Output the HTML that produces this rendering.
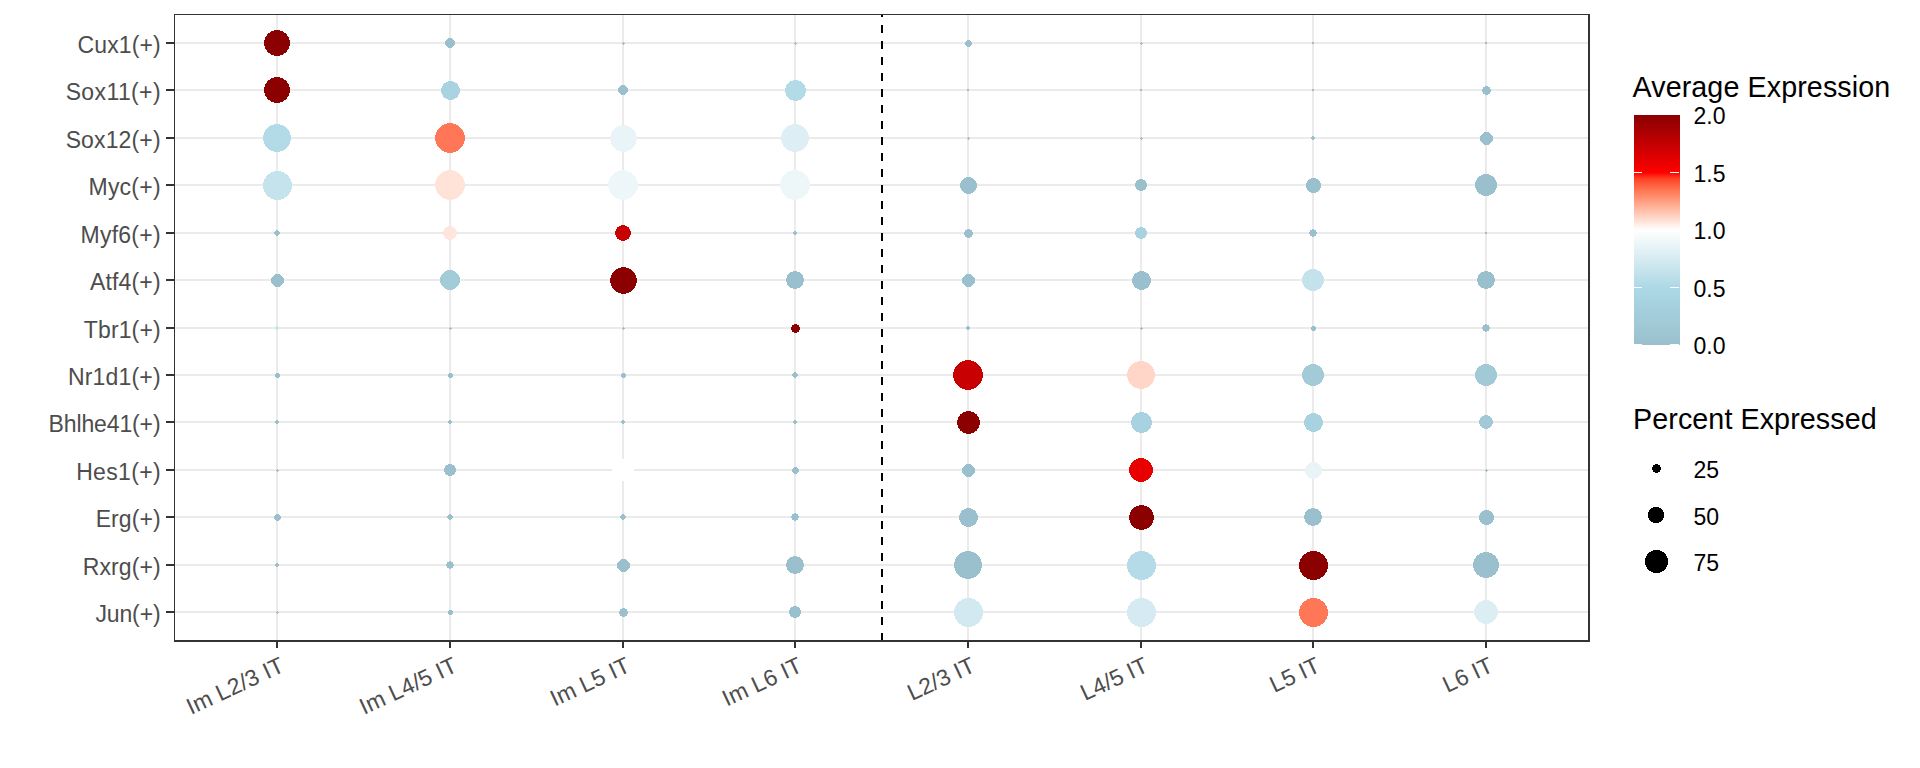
<!DOCTYPE html><html><head><meta charset="utf-8"><style>html,body{margin:0;padding:0;background:#fff;width:1920px;height:768px;overflow:hidden}svg{display:block}text{font-family:"Liberation Sans",sans-serif}</style></head><body>
<svg width="1920" height="768" viewBox="0 0 1920 768">
<rect width="1920" height="768" fill="#fff"/>
<g fill="#ebebeb">
<rect x="175" y="42.00" width="1413" height="2"/>
<rect x="175" y="89.00" width="1413" height="2"/>
<rect x="175" y="137.00" width="1413" height="2"/>
<rect x="175" y="184.00" width="1413" height="2"/>
<rect x="175" y="232.00" width="1413" height="2"/>
<rect x="175" y="279.00" width="1413" height="2"/>
<rect x="175" y="327.00" width="1413" height="2"/>
<rect x="175" y="374.00" width="1413" height="2"/>
<rect x="175" y="421.00" width="1413" height="2"/>
<rect x="175" y="469.00" width="1413" height="2"/>
<rect x="175" y="516.00" width="1413" height="2"/>
<rect x="175" y="564.00" width="1413" height="2"/>
<rect x="175" y="611.00" width="1413" height="2"/>
<rect x="276.00" y="15" width="2" height="625"/>
<rect x="449.00" y="15" width="2" height="625"/>
<rect x="622.00" y="15" width="2" height="625"/>
<rect x="794.00" y="15" width="2" height="625"/>
<rect x="967.00" y="15" width="2" height="625"/>
<rect x="1140.00" y="15" width="2" height="625"/>
<rect x="1312.00" y="15" width="2" height="625"/>
<rect x="1485.00" y="15" width="2" height="625"/>
</g>
<line x1="882" y1="15" x2="882" y2="640" stroke="#000" stroke-width="2" stroke-dasharray="8 8" stroke-dashoffset="6"/>
<path d="M274 30h6v1h-6zM271 31h12v1h-12zM270 32h14v1h-14zM268 33h18v1h-18zM267 34h20v1h-20zM267 35h20v1h-20zM266 36h22v1h-22zM265 37h24v1h-24zM265 38h24v1h-24zM265 39h24v1h-24zM264 40h26v1h-26zM264 41h26v1h-26zM264 42h26v1h-26zM264 43h26v1h-26zM264 44h26v1h-26zM264 45h26v1h-26zM265 46h24v1h-24zM265 47h24v1h-24zM265 48h24v1h-24zM266 49h22v1h-22zM267 50h20v1h-20zM267 51h20v1h-20zM268 52h18v1h-18zM270 53h14v1h-14zM271 54h12v1h-12zM274 55h6v1h-6z" fill="#8b0000"/>
<path d="M448 38h4v1h-4zM447 39h6v1h-6zM446 40h8v1h-8zM445 41h10v1h-10zM445 42h10v1h-10zM445 43h10v1h-10zM445 44h10v1h-10zM446 45h8v1h-8zM447 46h6v1h-6zM448 47h4v1h-4z" fill="#9ac0cd"/>
<path d="M623 42h1v1h-1zM622 43h3v1h-3zM623 44h1v1h-1z" fill="#9ac0cd"/>
<path d="M795 42h1v1h-1zM794 43h3v1h-3zM795 44h1v1h-1z" fill="#9ac0cd"/>
<path d="M967 40h3v1h-3zM966 41h5v1h-5zM965 42h7v1h-7zM965 43h7v1h-7zM965 44h7v1h-7zM966 45h5v1h-5zM967 46h3v1h-3z" fill="#9ac0cd"/>
<path d="M1141 42h1v1h-1zM1140 43h3v1h-3zM1141 44h1v1h-1z" fill="#9ac0cd"/>
<path d="M1312 42h2v1h-2zM1312 43h2v1h-2z" fill="#9ac0cd"/>
<path d="M1485 42h2v1h-2zM1485 43h2v1h-2z" fill="#9ac0cd"/>
<path d="M274 77h6v1h-6zM271 78h12v1h-12zM270 79h14v1h-14zM268 80h18v1h-18zM267 81h20v1h-20zM267 82h20v1h-20zM266 83h22v1h-22zM265 84h24v1h-24zM265 85h24v1h-24zM265 86h24v1h-24zM264 87h26v1h-26zM264 88h26v1h-26zM264 89h26v1h-26zM264 90h26v1h-26zM264 91h26v1h-26zM264 92h26v1h-26zM265 93h24v1h-24zM265 94h24v1h-24zM265 95h24v1h-24zM266 96h22v1h-22zM267 97h20v1h-20zM267 98h20v1h-20zM268 99h18v1h-18zM270 100h14v1h-14zM271 101h12v1h-12zM274 102h6v1h-6z" fill="#8b0000"/>
<path d="M448 81h5v1h-5zM446 82h9v1h-9zM444 83h13v1h-13zM443 84h15v1h-15zM443 85h15v1h-15zM442 86h17v1h-17zM442 87h17v1h-17zM441 88h19v1h-19zM441 89h19v1h-19zM441 90h19v1h-19zM441 91h19v1h-19zM441 92h19v1h-19zM442 93h17v1h-17zM442 94h17v1h-17zM443 95h15v1h-15zM443 96h15v1h-15zM444 97h13v1h-13zM446 98h9v1h-9zM448 99h5v1h-5z" fill="#a9d3e0"/>
<path d="M621 85h4v1h-4zM620 86h6v1h-6zM619 87h8v1h-8zM618 88h10v1h-10zM618 89h10v1h-10zM618 90h10v1h-10zM618 91h10v1h-10zM619 92h8v1h-8zM620 93h6v1h-6zM621 94h4v1h-4z" fill="#9ac0cd"/>
<path d="M793 80h5v1h-5zM790 81h11v1h-11zM789 82h13v1h-13zM788 83h15v1h-15zM787 84h17v1h-17zM786 85h19v1h-19zM786 86h19v1h-19zM786 87h19v1h-19zM785 88h21v1h-21zM785 89h21v1h-21zM785 90h21v1h-21zM785 91h21v1h-21zM785 92h21v1h-21zM786 93h19v1h-19zM786 94h19v1h-19zM786 95h19v1h-19zM787 96h17v1h-17zM788 97h15v1h-15zM789 98h13v1h-13zM790 99h11v1h-11zM793 100h5v1h-5z" fill="#b2dae7"/>
<path d="M967 89h2v1h-2zM967 90h2v1h-2z" fill="#9ac0cd"/>
<path d="M1140 89h2v1h-2zM1140 90h2v1h-2z" fill="#9ac0cd"/>
<path d="M1312 89h2v1h-2zM1312 90h2v1h-2z" fill="#9ac0cd"/>
<path d="M1485 86h3v1h-3zM1483 87h7v1h-7zM1483 88h7v1h-7zM1482 89h9v1h-9zM1482 90h9v1h-9zM1482 91h9v1h-9zM1483 92h7v1h-7zM1483 93h7v1h-7zM1485 94h3v1h-3z" fill="#9ac0cd"/>
<path d="M274 124h6v1h-6zM271 125h12v1h-12zM269 126h16v1h-16zM268 127h18v1h-18zM267 128h20v1h-20zM266 129h22v1h-22zM265 130h24v1h-24zM265 131h24v1h-24zM264 132h26v1h-26zM264 133h26v1h-26zM264 134h26v1h-26zM263 135h28v1h-28zM263 136h28v1h-28zM263 137h28v1h-28zM263 138h28v1h-28zM263 139h28v1h-28zM263 140h28v1h-28zM264 141h26v1h-26zM264 142h26v1h-26zM264 143h26v1h-26zM265 144h24v1h-24zM265 145h24v1h-24zM266 146h22v1h-22zM267 147h20v1h-20zM268 148h18v1h-18zM269 149h16v1h-16zM271 150h12v1h-12zM274 151h6v1h-6z" fill="#b2dae7"/>
<path d="M447 123h6v1h-6zM444 124h12v1h-12zM442 125h16v1h-16zM441 126h18v1h-18zM440 127h20v1h-20zM439 128h22v1h-22zM438 129h24v1h-24zM437 130h26v1h-26zM437 131h26v1h-26zM436 132h28v1h-28zM436 133h28v1h-28zM436 134h28v1h-28zM435 135h30v1h-30zM435 136h30v1h-30zM435 137h30v1h-30zM435 138h30v1h-30zM435 139h30v1h-30zM435 140h30v1h-30zM436 141h28v1h-28zM436 142h28v1h-28zM436 143h28v1h-28zM437 144h26v1h-26zM437 145h26v1h-26zM438 146h24v1h-24zM439 147h22v1h-22zM440 148h20v1h-20zM441 149h18v1h-18zM442 150h16v1h-16zM444 151h12v1h-12zM447 152h6v1h-6z" fill="#ff7756"/>
<path d="M621 125h5v1h-5zM618 126h11v1h-11zM616 127h15v1h-15zM615 128h17v1h-17zM614 129h19v1h-19zM613 130h21v1h-21zM612 131h23v1h-23zM612 132h23v1h-23zM611 133h25v1h-25zM611 134h25v1h-25zM611 135h25v1h-25zM610 136h27v1h-27zM610 137h27v1h-27zM610 138h27v1h-27zM610 139h27v1h-27zM610 140h27v1h-27zM611 141h25v1h-25zM611 142h25v1h-25zM611 143h25v1h-25zM612 144h23v1h-23zM612 145h23v1h-23zM613 146h21v1h-21zM614 147h19v1h-19zM615 148h17v1h-17zM616 149h15v1h-15zM618 150h11v1h-11zM621 151h5v1h-5z" fill="#e9f4f8"/>
<path d="M792 124h6v1h-6zM789 125h12v1h-12zM787 126h16v1h-16zM786 127h18v1h-18zM785 128h20v1h-20zM784 129h22v1h-22zM783 130h24v1h-24zM783 131h24v1h-24zM782 132h26v1h-26zM782 133h26v1h-26zM782 134h26v1h-26zM781 135h28v1h-28zM781 136h28v1h-28zM781 137h28v1h-28zM781 138h28v1h-28zM781 139h28v1h-28zM781 140h28v1h-28zM782 141h26v1h-26zM782 142h26v1h-26zM782 143h26v1h-26zM783 144h24v1h-24zM783 145h24v1h-24zM784 146h22v1h-22zM785 147h20v1h-20zM786 148h18v1h-18zM787 149h16v1h-16zM789 150h12v1h-12zM792 151h6v1h-6z" fill="#ddeef4"/>
<path d="M968 137h1v1h-1zM967 138h3v1h-3zM968 139h1v1h-1z" fill="#9ac0cd"/>
<path d="M1141 137h1v1h-1zM1140 138h3v1h-3zM1141 139h1v1h-1z" fill="#9ac0cd"/>
<path d="M1312 136h2v1h-2zM1311 137h4v1h-4zM1311 138h4v1h-4zM1312 139h2v1h-2z" fill="#9ac0cd"/>
<path d="M1484 132h5v1h-5zM1483 133h7v1h-7zM1482 134h9v1h-9zM1481 135h11v1h-11zM1480 136h13v1h-13zM1480 137h13v1h-13zM1480 138h13v1h-13zM1480 139h13v1h-13zM1480 140h13v1h-13zM1481 141h11v1h-11zM1482 142h9v1h-9zM1483 143h7v1h-7zM1484 144h5v1h-5z" fill="#9ac0cd"/>
<path d="M274 171h7v1h-7zM271 172h13v1h-13zM270 173h15v1h-15zM268 174h19v1h-19zM267 175h21v1h-21zM266 176h23v1h-23zM266 177h23v1h-23zM265 178h25v1h-25zM264 179h27v1h-27zM264 180h27v1h-27zM264 181h27v1h-27zM263 182h29v1h-29zM263 183h29v1h-29zM263 184h29v1h-29zM263 185h29v1h-29zM263 186h29v1h-29zM263 187h29v1h-29zM263 188h29v1h-29zM264 189h27v1h-27zM264 190h27v1h-27zM264 191h27v1h-27zM265 192h25v1h-25zM266 193h23v1h-23zM266 194h23v1h-23zM267 195h21v1h-21zM268 196h19v1h-19zM270 197h15v1h-15zM271 198h13v1h-13zM274 199h7v1h-7z" fill="#c5e3ed"/>
<path d="M447 170h6v1h-6zM444 171h12v1h-12zM442 172h16v1h-16zM441 173h18v1h-18zM440 174h20v1h-20zM439 175h22v1h-22zM438 176h24v1h-24zM437 177h26v1h-26zM437 178h26v1h-26zM436 179h28v1h-28zM436 180h28v1h-28zM436 181h28v1h-28zM435 182h30v1h-30zM435 183h30v1h-30zM435 184h30v1h-30zM435 185h30v1h-30zM435 186h30v1h-30zM435 187h30v1h-30zM436 188h28v1h-28zM436 189h28v1h-28zM436 190h28v1h-28zM437 191h26v1h-26zM437 192h26v1h-26zM438 193h24v1h-24zM439 194h22v1h-22zM440 195h20v1h-20zM441 196h18v1h-18zM442 197h16v1h-16zM444 198h12v1h-12zM447 199h6v1h-6z" fill="#ffe3d9"/>
<path d="M620 170h6v1h-6zM617 171h12v1h-12zM615 172h16v1h-16zM614 173h18v1h-18zM613 174h20v1h-20zM612 175h22v1h-22zM611 176h24v1h-24zM610 177h26v1h-26zM610 178h26v1h-26zM609 179h28v1h-28zM609 180h28v1h-28zM609 181h28v1h-28zM608 182h30v1h-30zM608 183h30v1h-30zM608 184h30v1h-30zM608 185h30v1h-30zM608 186h30v1h-30zM608 187h30v1h-30zM609 188h28v1h-28zM609 189h28v1h-28zM609 190h28v1h-28zM610 191h26v1h-26zM610 192h26v1h-26zM611 193h24v1h-24zM612 194h22v1h-22zM613 195h20v1h-20zM614 196h18v1h-18zM615 197h16v1h-16zM617 198h12v1h-12zM620 199h6v1h-6z" fill="#edf6f9"/>
<path d="M792 170h6v1h-6zM789 171h12v1h-12zM787 172h16v1h-16zM786 173h18v1h-18zM785 174h20v1h-20zM784 175h22v1h-22zM783 176h24v1h-24zM782 177h26v1h-26zM782 178h26v1h-26zM781 179h28v1h-28zM781 180h28v1h-28zM781 181h28v1h-28zM780 182h30v1h-30zM780 183h30v1h-30zM780 184h30v1h-30zM780 185h30v1h-30zM780 186h30v1h-30zM780 187h30v1h-30zM781 188h28v1h-28zM781 189h28v1h-28zM781 190h28v1h-28zM782 191h26v1h-26zM782 192h26v1h-26zM783 193h24v1h-24zM784 194h22v1h-22zM785 195h20v1h-20zM786 196h18v1h-18zM787 197h16v1h-16zM789 198h12v1h-12zM792 199h6v1h-6z" fill="#edf6f9"/>
<path d="M966 177h5v1h-5zM964 178h9v1h-9zM963 179h11v1h-11zM962 180h13v1h-13zM961 181h15v1h-15zM961 182h15v1h-15zM960 183h17v1h-17zM960 184h17v1h-17zM960 185h17v1h-17zM960 186h17v1h-17zM960 187h17v1h-17zM961 188h15v1h-15zM961 189h15v1h-15zM962 190h13v1h-13zM963 191h11v1h-11zM964 192h9v1h-9zM966 193h5v1h-5z" fill="#9ac0cd"/>
<path d="M1139 179h4v1h-4zM1137 180h8v1h-8zM1136 181h10v1h-10zM1136 182h10v1h-10zM1135 183h12v1h-12zM1135 184h12v1h-12zM1135 185h12v1h-12zM1135 186h12v1h-12zM1136 187h10v1h-10zM1136 188h10v1h-10zM1137 189h8v1h-8zM1139 190h4v1h-4z" fill="#9ac0cd"/>
<path d="M1311 178h5v1h-5zM1309 179h9v1h-9zM1308 180h11v1h-11zM1307 181h13v1h-13zM1307 182h13v1h-13zM1306 183h15v1h-15zM1306 184h15v1h-15zM1306 185h15v1h-15zM1306 186h15v1h-15zM1306 187h15v1h-15zM1307 188h13v1h-13zM1307 189h13v1h-13zM1308 190h11v1h-11zM1309 191h9v1h-9zM1311 192h5v1h-5z" fill="#9ac0cd"/>
<path d="M1483 174h6v1h-6zM1481 175h10v1h-10zM1479 176h14v1h-14zM1478 177h16v1h-16zM1477 178h18v1h-18zM1477 179h18v1h-18zM1476 180h20v1h-20zM1476 181h20v1h-20zM1475 182h22v1h-22zM1475 183h22v1h-22zM1475 184h22v1h-22zM1475 185h22v1h-22zM1475 186h22v1h-22zM1475 187h22v1h-22zM1476 188h20v1h-20zM1476 189h20v1h-20zM1477 190h18v1h-18zM1477 191h18v1h-18zM1478 192h16v1h-16zM1479 193h14v1h-14zM1481 194h10v1h-10zM1483 195h6v1h-6z" fill="#9ac0cd"/>
<path d="M276 230h2v1h-2zM275 231h4v1h-4zM274 232h6v1h-6zM274 233h6v1h-6zM275 234h4v1h-4zM276 235h2v1h-2z" fill="#9ac0cd"/>
<path d="M448 226h4v1h-4zM446 227h8v1h-8zM445 228h10v1h-10zM444 229h12v1h-12zM444 230h12v1h-12zM443 231h14v1h-14zM443 232h14v1h-14zM443 233h14v1h-14zM443 234h14v1h-14zM444 235h12v1h-12zM444 236h12v1h-12zM445 237h10v1h-10zM446 238h8v1h-8zM448 239h4v1h-4z" fill="#ffe6dd"/>
<path d="M621 225h4v1h-4zM619 226h8v1h-8zM617 227h12v1h-12zM617 228h12v1h-12zM616 229h14v1h-14zM616 230h14v1h-14zM615 231h16v1h-16zM615 232h16v1h-16zM615 233h16v1h-16zM615 234h16v1h-16zM616 235h14v1h-14zM616 236h14v1h-14zM617 237h12v1h-12zM617 238h12v1h-12zM619 239h8v1h-8zM621 240h4v1h-4z" fill="#c70002"/>
<path d="M794 231h2v1h-2zM793 232h4v1h-4zM793 233h4v1h-4zM794 234h2v1h-2z" fill="#9ac0cd"/>
<path d="M967 229h3v1h-3zM965 230h7v1h-7zM965 231h7v1h-7zM964 232h9v1h-9zM964 233h9v1h-9zM964 234h9v1h-9zM965 235h7v1h-7zM965 236h7v1h-7zM967 237h3v1h-3z" fill="#9ac0cd"/>
<path d="M1139 227h4v1h-4zM1137 228h8v1h-8zM1136 229h10v1h-10zM1136 230h10v1h-10zM1135 231h12v1h-12zM1135 232h12v1h-12zM1135 233h12v1h-12zM1135 234h12v1h-12zM1136 235h10v1h-10zM1136 236h10v1h-10zM1137 237h8v1h-8zM1139 238h4v1h-4z" fill="#a8d2df"/>
<path d="M1312 229h2v1h-2zM1310 230h6v1h-6zM1310 231h6v1h-6zM1309 232h8v1h-8zM1309 233h8v1h-8zM1310 234h6v1h-6zM1310 235h6v1h-6zM1312 236h2v1h-2z" fill="#9ac0cd"/>
<path d="M1485 232h2v1h-2zM1485 233h2v1h-2z" fill="#9ac0cd"/>
<path d="M275 274h5v1h-5zM274 275h7v1h-7zM273 276h9v1h-9zM272 277h11v1h-11zM271 278h13v1h-13zM271 279h13v1h-13zM271 280h13v1h-13zM271 281h13v1h-13zM271 282h13v1h-13zM272 283h11v1h-11zM273 284h9v1h-9zM274 285h7v1h-7zM275 286h5v1h-5z" fill="#9ac0cd"/>
<path d="M447 270h6v1h-6zM445 271h10v1h-10zM444 272h12v1h-12zM443 273h14v1h-14zM442 274h16v1h-16zM441 275h18v1h-18zM441 276h18v1h-18zM440 277h20v1h-20zM440 278h20v1h-20zM440 279h20v1h-20zM440 280h20v1h-20zM440 281h20v1h-20zM440 282h20v1h-20zM441 283h18v1h-18zM441 284h18v1h-18zM442 285h16v1h-16zM443 286h14v1h-14zM444 287h12v1h-12zM445 288h10v1h-10zM447 289h6v1h-6z" fill="#a3ccd9"/>
<path d="M621 267h5v1h-5zM618 268h11v1h-11zM616 269h15v1h-15zM615 270h17v1h-17zM614 271h19v1h-19zM613 272h21v1h-21zM612 273h23v1h-23zM612 274h23v1h-23zM611 275h25v1h-25zM611 276h25v1h-25zM611 277h25v1h-25zM610 278h27v1h-27zM610 279h27v1h-27zM610 280h27v1h-27zM610 281h27v1h-27zM610 282h27v1h-27zM611 283h25v1h-25zM611 284h25v1h-25zM611 285h25v1h-25zM612 286h23v1h-23zM612 287h23v1h-23zM613 288h21v1h-21zM614 289h19v1h-19zM615 290h17v1h-17zM616 291h15v1h-15zM618 292h11v1h-11zM621 293h5v1h-5z" fill="#8b0000"/>
<path d="M793 271h4v1h-4zM790 272h10v1h-10zM789 273h12v1h-12zM788 274h14v1h-14zM787 275h16v1h-16zM787 276h16v1h-16zM787 277h16v1h-16zM786 278h18v1h-18zM786 279h18v1h-18zM786 280h18v1h-18zM786 281h18v1h-18zM787 282h16v1h-16zM787 283h16v1h-16zM787 284h16v1h-16zM788 285h14v1h-14zM789 286h12v1h-12zM790 287h10v1h-10zM793 288h4v1h-4z" fill="#9ac0cd"/>
<path d="M966 274h5v1h-5zM965 275h7v1h-7zM964 276h9v1h-9zM963 277h11v1h-11zM962 278h13v1h-13zM962 279h13v1h-13zM962 280h13v1h-13zM962 281h13v1h-13zM962 282h13v1h-13zM963 283h11v1h-11zM964 284h9v1h-9zM965 285h7v1h-7zM966 286h5v1h-5z" fill="#9ac0cd"/>
<path d="M1139 271h5v1h-5zM1137 272h9v1h-9zM1135 273h13v1h-13zM1134 274h15v1h-15zM1134 275h15v1h-15zM1133 276h17v1h-17zM1133 277h17v1h-17zM1132 278h19v1h-19zM1132 279h19v1h-19zM1132 280h19v1h-19zM1132 281h19v1h-19zM1132 282h19v1h-19zM1133 283h17v1h-17zM1133 284h17v1h-17zM1134 285h15v1h-15zM1134 286h15v1h-15zM1135 287h13v1h-13zM1137 288h9v1h-9zM1139 289h5v1h-5z" fill="#9ac0cd"/>
<path d="M1310 269h6v1h-6zM1308 270h10v1h-10zM1306 271h14v1h-14zM1305 272h16v1h-16zM1304 273h18v1h-18zM1304 274h18v1h-18zM1303 275h20v1h-20zM1303 276h20v1h-20zM1302 277h22v1h-22zM1302 278h22v1h-22zM1302 279h22v1h-22zM1302 280h22v1h-22zM1302 281h22v1h-22zM1302 282h22v1h-22zM1303 283h20v1h-20zM1303 284h20v1h-20zM1304 285h18v1h-18zM1304 286h18v1h-18zM1305 287h16v1h-16zM1306 288h14v1h-14zM1308 289h10v1h-10zM1310 290h6v1h-6z" fill="#c3e2ec"/>
<path d="M1484 271h4v1h-4zM1481 272h10v1h-10zM1480 273h12v1h-12zM1479 274h14v1h-14zM1478 275h16v1h-16zM1478 276h16v1h-16zM1478 277h16v1h-16zM1477 278h18v1h-18zM1477 279h18v1h-18zM1477 280h18v1h-18zM1477 281h18v1h-18zM1478 282h16v1h-16zM1478 283h16v1h-16zM1478 284h16v1h-16zM1479 285h14v1h-14zM1480 286h12v1h-12zM1481 287h10v1h-10zM1484 288h4v1h-4z" fill="#9ac0cd"/>
<path d="M276 326h2v1h-2zM275 327h4v1h-4zM275 328h4v1h-4zM276 329h2v1h-2z" fill="#c8e5ee"/>
<path d="M450 327h1v1h-1zM449 328h3v1h-3zM450 329h1v1h-1z" fill="#9ac0cd"/>
<path d="M623 327h1v1h-1zM622 328h3v1h-3zM623 329h1v1h-1z" fill="#9ac0cd"/>
<path d="M794 324h3v1h-3zM792 325h7v1h-7zM792 326h7v1h-7zM791 327h9v1h-9zM791 328h9v1h-9zM791 329h9v1h-9zM792 330h7v1h-7zM792 331h7v1h-7zM794 332h3v1h-3z" fill="#8b0000"/>
<path d="M967 326h2v1h-2zM966 327h4v1h-4zM966 328h4v1h-4zM967 329h2v1h-2z" fill="#9ac0cd"/>
<path d="M1141 327h1v1h-1zM1140 328h3v1h-3zM1141 329h1v1h-1z" fill="#9ac0cd"/>
<path d="M1312 326h3v1h-3zM1311 327h5v1h-5zM1311 328h5v1h-5zM1311 329h5v1h-5zM1312 330h3v1h-3z" fill="#9ac0cd"/>
<path d="M1485 324h2v1h-2zM1483 325h6v1h-6zM1483 326h6v1h-6zM1482 327h8v1h-8zM1482 328h8v1h-8zM1483 329h6v1h-6zM1483 330h6v1h-6zM1485 331h2v1h-2z" fill="#9ac0cd"/>
<path d="M276 373h3v1h-3zM275 374h5v1h-5zM275 375h5v1h-5zM275 376h5v1h-5zM276 377h3v1h-3z" fill="#9ac0cd"/>
<path d="M449 373h3v1h-3zM448 374h5v1h-5zM448 375h5v1h-5zM448 376h5v1h-5zM449 377h3v1h-3z" fill="#9ac0cd"/>
<path d="M622 373h3v1h-3zM621 374h5v1h-5zM621 375h5v1h-5zM621 376h5v1h-5zM622 377h3v1h-3z" fill="#9ac0cd"/>
<path d="M794 372h2v1h-2zM793 373h4v1h-4zM792 374h6v1h-6zM792 375h6v1h-6zM793 376h4v1h-4zM794 377h2v1h-2z" fill="#9ac0cd"/>
<path d="M965 360h6v1h-6zM962 361h12v1h-12zM960 362h16v1h-16zM959 363h18v1h-18zM958 364h20v1h-20zM957 365h22v1h-22zM956 366h24v1h-24zM955 367h26v1h-26zM955 368h26v1h-26zM954 369h28v1h-28zM954 370h28v1h-28zM954 371h28v1h-28zM953 372h30v1h-30zM953 373h30v1h-30zM953 374h30v1h-30zM953 375h30v1h-30zM953 376h30v1h-30zM953 377h30v1h-30zM954 378h28v1h-28zM954 379h28v1h-28zM954 380h28v1h-28zM955 381h26v1h-26zM955 382h26v1h-26zM956 383h24v1h-24zM957 384h22v1h-22zM958 385h20v1h-20zM959 386h18v1h-18zM960 387h16v1h-16zM962 388h12v1h-12zM965 389h6v1h-6z" fill="#c80002"/>
<path d="M1138 361h6v1h-6zM1135 362h12v1h-12zM1133 363h16v1h-16zM1132 364h18v1h-18zM1131 365h20v1h-20zM1130 366h22v1h-22zM1129 367h24v1h-24zM1129 368h24v1h-24zM1128 369h26v1h-26zM1128 370h26v1h-26zM1128 371h26v1h-26zM1127 372h28v1h-28zM1127 373h28v1h-28zM1127 374h28v1h-28zM1127 375h28v1h-28zM1127 376h28v1h-28zM1127 377h28v1h-28zM1128 378h26v1h-26zM1128 379h26v1h-26zM1128 380h26v1h-26zM1129 381h24v1h-24zM1129 382h24v1h-24zM1130 383h22v1h-22zM1131 384h20v1h-20zM1132 385h18v1h-18zM1133 386h16v1h-16zM1135 387h12v1h-12zM1138 388h6v1h-6z" fill="#ffd6c8"/>
<path d="M1310 364h6v1h-6zM1308 365h10v1h-10zM1306 366h14v1h-14zM1305 367h16v1h-16zM1304 368h18v1h-18zM1304 369h18v1h-18zM1303 370h20v1h-20zM1303 371h20v1h-20zM1302 372h22v1h-22zM1302 373h22v1h-22zM1302 374h22v1h-22zM1302 375h22v1h-22zM1302 376h22v1h-22zM1302 377h22v1h-22zM1303 378h20v1h-20zM1303 379h20v1h-20zM1304 380h18v1h-18zM1304 381h18v1h-18zM1305 382h16v1h-16zM1306 383h14v1h-14zM1308 384h10v1h-10zM1310 385h6v1h-6z" fill="#a2cad7"/>
<path d="M1483 364h6v1h-6zM1481 365h10v1h-10zM1479 366h14v1h-14zM1478 367h16v1h-16zM1477 368h18v1h-18zM1477 369h18v1h-18zM1476 370h20v1h-20zM1476 371h20v1h-20zM1475 372h22v1h-22zM1475 373h22v1h-22zM1475 374h22v1h-22zM1475 375h22v1h-22zM1475 376h22v1h-22zM1475 377h22v1h-22zM1476 378h20v1h-20zM1476 379h20v1h-20zM1477 380h18v1h-18zM1477 381h18v1h-18zM1478 382h16v1h-16zM1479 383h14v1h-14zM1481 384h10v1h-10zM1483 385h6v1h-6z" fill="#a1c9d6"/>
<path d="M276 420h2v1h-2zM275 421h4v1h-4zM275 422h4v1h-4zM276 423h2v1h-2z" fill="#9ac0cd"/>
<path d="M449 420h2v1h-2zM448 421h4v1h-4zM448 422h4v1h-4zM449 423h2v1h-2z" fill="#9ac0cd"/>
<path d="M622 420h2v1h-2zM621 421h4v1h-4zM621 422h4v1h-4zM622 423h2v1h-2z" fill="#9ac0cd"/>
<path d="M794 420h2v1h-2zM793 421h4v1h-4zM793 422h4v1h-4zM794 423h2v1h-2z" fill="#9ac0cd"/>
<path d="M966 411h5v1h-5zM963 412h11v1h-11zM962 413h13v1h-13zM960 414h17v1h-17zM960 415h17v1h-17zM959 416h19v1h-19zM958 417h21v1h-21zM958 418h21v1h-21zM958 419h21v1h-21zM957 420h23v1h-23zM957 421h23v1h-23zM957 422h23v1h-23zM957 423h23v1h-23zM957 424h23v1h-23zM958 425h21v1h-21zM958 426h21v1h-21zM958 427h21v1h-21zM959 428h19v1h-19zM960 429h17v1h-17zM960 430h17v1h-17zM962 431h13v1h-13zM963 432h11v1h-11zM966 433h5v1h-5z" fill="#8b0000"/>
<path d="M1139 412h5v1h-5zM1136 413h11v1h-11zM1135 414h13v1h-13zM1134 415h15v1h-15zM1133 416h17v1h-17zM1132 417h19v1h-19zM1132 418h19v1h-19zM1132 419h19v1h-19zM1131 420h21v1h-21zM1131 421h21v1h-21zM1131 422h21v1h-21zM1131 423h21v1h-21zM1131 424h21v1h-21zM1132 425h19v1h-19zM1132 426h19v1h-19zM1132 427h19v1h-19zM1133 428h17v1h-17zM1134 429h15v1h-15zM1135 430h13v1h-13zM1136 431h11v1h-11zM1139 432h5v1h-5z" fill="#a8d2df"/>
<path d="M1311 413h5v1h-5zM1309 414h9v1h-9zM1307 415h13v1h-13zM1306 416h15v1h-15zM1306 417h15v1h-15zM1305 418h17v1h-17zM1305 419h17v1h-17zM1304 420h19v1h-19zM1304 421h19v1h-19zM1304 422h19v1h-19zM1304 423h19v1h-19zM1304 424h19v1h-19zM1305 425h17v1h-17zM1305 426h17v1h-17zM1306 427h15v1h-15zM1306 428h15v1h-15zM1307 429h13v1h-13zM1309 430h9v1h-9zM1311 431h5v1h-5z" fill="#a8d2df"/>
<path d="M1484 415h4v1h-4zM1482 416h8v1h-8zM1481 417h10v1h-10zM1480 418h12v1h-12zM1480 419h12v1h-12zM1479 420h14v1h-14zM1479 421h14v1h-14zM1479 422h14v1h-14zM1479 423h14v1h-14zM1480 424h12v1h-12zM1480 425h12v1h-12zM1481 426h10v1h-10zM1482 427h8v1h-8zM1484 428h4v1h-4z" fill="#a1c9d6"/>
<path d="M277 469h1v1h-1zM276 470h3v1h-3zM277 471h1v1h-1z" fill="#9ac0cd"/>
<path d="M448 464h4v1h-4zM446 465h8v1h-8zM445 466h10v1h-10zM445 467h10v1h-10zM444 468h12v1h-12zM444 469h12v1h-12zM444 470h12v1h-12zM444 471h12v1h-12zM445 472h10v1h-10zM445 473h10v1h-10zM446 474h8v1h-8zM448 475h4v1h-4z" fill="#9ac0cd"/>
<path d="M620 459h6v1h-6zM618 460h10v1h-10zM616 461h14v1h-14zM615 462h16v1h-16zM614 463h18v1h-18zM614 464h18v1h-18zM613 465h20v1h-20zM613 466h20v1h-20zM612 467h22v1h-22zM612 468h22v1h-22zM612 469h22v1h-22zM612 470h22v1h-22zM612 471h22v1h-22zM612 472h22v1h-22zM613 473h20v1h-20zM613 474h20v1h-20zM614 475h18v1h-18zM614 476h18v1h-18zM615 477h16v1h-16zM616 478h14v1h-14zM618 479h10v1h-10zM620 480h6v1h-6z" fill="#ffffff"/>
<path d="M794 467h3v1h-3zM793 468h5v1h-5zM792 469h7v1h-7zM792 470h7v1h-7zM792 471h7v1h-7zM793 472h5v1h-5zM794 473h3v1h-3z" fill="#9ac0cd"/>
<path d="M966 464h5v1h-5zM965 465h7v1h-7zM964 466h9v1h-9zM963 467h11v1h-11zM962 468h13v1h-13zM962 469h13v1h-13zM962 470h13v1h-13zM962 471h13v1h-13zM962 472h13v1h-13zM963 473h11v1h-11zM964 474h9v1h-9zM965 475h7v1h-7zM966 476h5v1h-5z" fill="#9ac0cd"/>
<path d="M1138 458h6v1h-6zM1136 459h10v1h-10zM1134 460h14v1h-14zM1133 461h16v1h-16zM1132 462h18v1h-18zM1131 463h20v1h-20zM1131 464h20v1h-20zM1130 465h22v1h-22zM1130 466h22v1h-22zM1129 467h24v1h-24zM1129 468h24v1h-24zM1129 469h24v1h-24zM1129 470h24v1h-24zM1129 471h24v1h-24zM1129 472h24v1h-24zM1130 473h22v1h-22zM1130 474h22v1h-22zM1131 475h20v1h-20zM1131 476h20v1h-20zM1132 477h18v1h-18zM1133 478h16v1h-16zM1134 479h14v1h-14zM1136 480h10v1h-10zM1138 481h6v1h-6z" fill="#e80001"/>
<path d="M1311 462h5v1h-5zM1309 463h9v1h-9zM1308 464h11v1h-11zM1307 465h13v1h-13zM1306 466h15v1h-15zM1306 467h15v1h-15zM1305 468h17v1h-17zM1305 469h17v1h-17zM1305 470h17v1h-17zM1305 471h17v1h-17zM1305 472h17v1h-17zM1306 473h15v1h-15zM1306 474h15v1h-15zM1307 475h13v1h-13zM1308 476h11v1h-11zM1309 477h9v1h-9zM1311 478h5v1h-5z" fill="#e9f4f8"/>
<path d="M1486 469h1v1h-1zM1485 470h3v1h-3zM1486 471h1v1h-1z" fill="#9ac0cd"/>
<path d="M276 514h3v1h-3zM275 515h5v1h-5zM274 516h7v1h-7zM274 517h7v1h-7zM274 518h7v1h-7zM275 519h5v1h-5zM276 520h3v1h-3z" fill="#9ac0cd"/>
<path d="M449 514h2v1h-2zM448 515h4v1h-4zM447 516h6v1h-6zM447 517h6v1h-6zM448 518h4v1h-4zM449 519h2v1h-2z" fill="#9ac0cd"/>
<path d="M622 514h2v1h-2zM621 515h4v1h-4zM620 516h6v1h-6zM620 517h6v1h-6zM621 518h4v1h-4zM622 519h2v1h-2z" fill="#9ac0cd"/>
<path d="M794 513h2v1h-2zM792 514h6v1h-6zM792 515h6v1h-6zM791 516h8v1h-8zM791 517h8v1h-8zM792 518h6v1h-6zM792 519h6v1h-6zM794 520h2v1h-2z" fill="#9ac0cd"/>
<path d="M966 508h5v1h-5zM964 509h9v1h-9zM962 510h13v1h-13zM961 511h15v1h-15zM961 512h15v1h-15zM960 513h17v1h-17zM960 514h17v1h-17zM959 515h19v1h-19zM959 516h19v1h-19zM959 517h19v1h-19zM959 518h19v1h-19zM959 519h19v1h-19zM960 520h17v1h-17zM960 521h17v1h-17zM961 522h15v1h-15zM961 523h15v1h-15zM962 524h13v1h-13zM964 525h9v1h-9zM966 526h5v1h-5z" fill="#9ac0cd"/>
<path d="M1139 505h5v1h-5zM1136 506h11v1h-11zM1134 507h15v1h-15zM1133 508h17v1h-17zM1132 509h19v1h-19zM1131 510h21v1h-21zM1131 511h21v1h-21zM1130 512h23v1h-23zM1130 513h23v1h-23zM1130 514h23v1h-23zM1129 515h25v1h-25zM1129 516h25v1h-25zM1129 517h25v1h-25zM1129 518h25v1h-25zM1129 519h25v1h-25zM1130 520h23v1h-23zM1130 521h23v1h-23zM1130 522h23v1h-23zM1131 523h21v1h-21zM1131 524h21v1h-21zM1132 525h19v1h-19zM1133 526h17v1h-17zM1134 527h15v1h-15zM1136 528h11v1h-11zM1139 529h5v1h-5z" fill="#8b0000"/>
<path d="M1311 508h4v1h-4zM1308 509h10v1h-10zM1307 510h12v1h-12zM1306 511h14v1h-14zM1305 512h16v1h-16zM1305 513h16v1h-16zM1305 514h16v1h-16zM1304 515h18v1h-18zM1304 516h18v1h-18zM1304 517h18v1h-18zM1304 518h18v1h-18zM1305 519h16v1h-16zM1305 520h16v1h-16zM1305 521h16v1h-16zM1306 522h14v1h-14zM1307 523h12v1h-12zM1308 524h10v1h-10zM1311 525h4v1h-4z" fill="#9ac0cd"/>
<path d="M1484 510h5v1h-5zM1482 511h9v1h-9zM1481 512h11v1h-11zM1480 513h13v1h-13zM1480 514h13v1h-13zM1479 515h15v1h-15zM1479 516h15v1h-15zM1479 517h15v1h-15zM1479 518h15v1h-15zM1479 519h15v1h-15zM1480 520h13v1h-13zM1480 521h13v1h-13zM1481 522h11v1h-11zM1482 523h9v1h-9zM1484 524h5v1h-5z" fill="#9ac0cd"/>
<path d="M276 563h2v1h-2zM275 564h4v1h-4zM275 565h4v1h-4zM276 566h2v1h-2z" fill="#9ac0cd"/>
<path d="M449 561h2v1h-2zM447 562h6v1h-6zM447 563h6v1h-6zM446 564h8v1h-8zM446 565h8v1h-8zM447 566h6v1h-6zM447 567h6v1h-6zM449 568h2v1h-2z" fill="#9ac0cd"/>
<path d="M621 559h5v1h-5zM620 560h7v1h-7zM619 561h9v1h-9zM618 562h11v1h-11zM617 563h13v1h-13zM617 564h13v1h-13zM617 565h13v1h-13zM617 566h13v1h-13zM617 567h13v1h-13zM618 568h11v1h-11zM619 569h9v1h-9zM620 570h7v1h-7zM621 571h5v1h-5z" fill="#9ac0cd"/>
<path d="M793 556h4v1h-4zM790 557h10v1h-10zM789 558h12v1h-12zM788 559h14v1h-14zM787 560h16v1h-16zM787 561h16v1h-16zM787 562h16v1h-16zM786 563h18v1h-18zM786 564h18v1h-18zM786 565h18v1h-18zM786 566h18v1h-18zM787 567h16v1h-16zM787 568h16v1h-16zM787 569h16v1h-16zM788 570h14v1h-14zM789 571h12v1h-12zM790 572h10v1h-10zM793 573h4v1h-4z" fill="#9ac0cd"/>
<path d="M965 551h6v1h-6zM962 552h12v1h-12zM960 553h16v1h-16zM959 554h18v1h-18zM958 555h20v1h-20zM957 556h22v1h-22zM956 557h24v1h-24zM956 558h24v1h-24zM955 559h26v1h-26zM955 560h26v1h-26zM955 561h26v1h-26zM954 562h28v1h-28zM954 563h28v1h-28zM954 564h28v1h-28zM954 565h28v1h-28zM954 566h28v1h-28zM954 567h28v1h-28zM955 568h26v1h-26zM955 569h26v1h-26zM955 570h26v1h-26zM956 571h24v1h-24zM956 572h24v1h-24zM957 573h22v1h-22zM958 574h20v1h-20zM959 575h18v1h-18zM960 576h16v1h-16zM962 577h12v1h-12zM965 578h6v1h-6z" fill="#9ac0cd"/>
<path d="M1138 551h7v1h-7zM1135 552h13v1h-13zM1134 553h15v1h-15zM1132 554h19v1h-19zM1131 555h21v1h-21zM1130 556h23v1h-23zM1130 557h23v1h-23zM1129 558h25v1h-25zM1128 559h27v1h-27zM1128 560h27v1h-27zM1128 561h27v1h-27zM1127 562h29v1h-29zM1127 563h29v1h-29zM1127 564h29v1h-29zM1127 565h29v1h-29zM1127 566h29v1h-29zM1127 567h29v1h-29zM1127 568h29v1h-29zM1128 569h27v1h-27zM1128 570h27v1h-27zM1128 571h27v1h-27zM1129 572h25v1h-25zM1130 573h23v1h-23zM1130 574h23v1h-23zM1131 575h21v1h-21zM1132 576h19v1h-19zM1134 577h15v1h-15zM1135 578h13v1h-13zM1138 579h7v1h-7z" fill="#b5dbe8"/>
<path d="M1310 551h7v1h-7zM1307 552h13v1h-13zM1306 553h15v1h-15zM1304 554h19v1h-19zM1303 555h21v1h-21zM1302 556h23v1h-23zM1302 557h23v1h-23zM1301 558h25v1h-25zM1300 559h27v1h-27zM1300 560h27v1h-27zM1300 561h27v1h-27zM1299 562h29v1h-29zM1299 563h29v1h-29zM1299 564h29v1h-29zM1299 565h29v1h-29zM1299 566h29v1h-29zM1299 567h29v1h-29zM1299 568h29v1h-29zM1300 569h27v1h-27zM1300 570h27v1h-27zM1300 571h27v1h-27zM1301 572h25v1h-25zM1302 573h23v1h-23zM1302 574h23v1h-23zM1303 575h21v1h-21zM1304 576h19v1h-19zM1306 577h15v1h-15zM1307 578h13v1h-13zM1310 579h7v1h-7z" fill="#8b0000"/>
<path d="M1483 552h6v1h-6zM1480 553h12v1h-12zM1479 554h14v1h-14zM1477 555h18v1h-18zM1476 556h20v1h-20zM1476 557h20v1h-20zM1475 558h22v1h-22zM1474 559h24v1h-24zM1474 560h24v1h-24zM1474 561h24v1h-24zM1473 562h26v1h-26zM1473 563h26v1h-26zM1473 564h26v1h-26zM1473 565h26v1h-26zM1473 566h26v1h-26zM1473 567h26v1h-26zM1474 568h24v1h-24zM1474 569h24v1h-24zM1474 570h24v1h-24zM1475 571h22v1h-22zM1476 572h20v1h-20zM1476 573h20v1h-20zM1477 574h18v1h-18zM1479 575h14v1h-14zM1480 576h12v1h-12zM1483 577h6v1h-6z" fill="#9ac0cd"/>
<path d="M277 611h1v1h-1zM276 612h3v1h-3zM277 613h1v1h-1z" fill="#9ac0cd"/>
<path d="M449 610h3v1h-3zM448 611h5v1h-5zM448 612h5v1h-5zM448 613h5v1h-5zM449 614h3v1h-3z" fill="#9ac0cd"/>
<path d="M622 608h3v1h-3zM620 609h7v1h-7zM620 610h7v1h-7zM619 611h9v1h-9zM619 612h9v1h-9zM619 613h9v1h-9zM620 614h7v1h-7zM620 615h7v1h-7zM622 616h3v1h-3z" fill="#9ac0cd"/>
<path d="M793 606h4v1h-4zM791 607h8v1h-8zM790 608h10v1h-10zM790 609h10v1h-10zM789 610h12v1h-12zM789 611h12v1h-12zM789 612h12v1h-12zM789 613h12v1h-12zM790 614h10v1h-10zM790 615h10v1h-10zM791 616h8v1h-8zM793 617h4v1h-4z" fill="#9ac0cd"/>
<path d="M965 598h7v1h-7zM962 599h13v1h-13zM961 600h15v1h-15zM959 601h19v1h-19zM958 602h21v1h-21zM957 603h23v1h-23zM957 604h23v1h-23zM956 605h25v1h-25zM955 606h27v1h-27zM955 607h27v1h-27zM955 608h27v1h-27zM954 609h29v1h-29zM954 610h29v1h-29zM954 611h29v1h-29zM954 612h29v1h-29zM954 613h29v1h-29zM954 614h29v1h-29zM954 615h29v1h-29zM955 616h27v1h-27zM955 617h27v1h-27zM955 618h27v1h-27zM956 619h25v1h-25zM957 620h23v1h-23zM957 621h23v1h-23zM958 622h21v1h-21zM959 623h19v1h-19zM961 624h15v1h-15zM962 625h13v1h-13zM965 626h7v1h-7z" fill="#d2e9f1"/>
<path d="M1138 598h7v1h-7zM1135 599h13v1h-13zM1134 600h15v1h-15zM1132 601h19v1h-19zM1131 602h21v1h-21zM1130 603h23v1h-23zM1130 604h23v1h-23zM1129 605h25v1h-25zM1128 606h27v1h-27zM1128 607h27v1h-27zM1128 608h27v1h-27zM1127 609h29v1h-29zM1127 610h29v1h-29zM1127 611h29v1h-29zM1127 612h29v1h-29zM1127 613h29v1h-29zM1127 614h29v1h-29zM1127 615h29v1h-29zM1128 616h27v1h-27zM1128 617h27v1h-27zM1128 618h27v1h-27zM1129 619h25v1h-25zM1130 620h23v1h-23zM1130 621h23v1h-23zM1131 622h21v1h-21zM1132 623h19v1h-19zM1134 624h15v1h-15zM1135 625h13v1h-13zM1138 626h7v1h-7z" fill="#d5eaf2"/>
<path d="M1310 598h7v1h-7zM1307 599h13v1h-13zM1306 600h15v1h-15zM1304 601h19v1h-19zM1303 602h21v1h-21zM1302 603h23v1h-23zM1302 604h23v1h-23zM1301 605h25v1h-25zM1300 606h27v1h-27zM1300 607h27v1h-27zM1300 608h27v1h-27zM1299 609h29v1h-29zM1299 610h29v1h-29zM1299 611h29v1h-29zM1299 612h29v1h-29zM1299 613h29v1h-29zM1299 614h29v1h-29zM1299 615h29v1h-29zM1300 616h27v1h-27zM1300 617h27v1h-27zM1300 618h27v1h-27zM1301 619h25v1h-25zM1302 620h23v1h-23zM1302 621h23v1h-23zM1303 622h21v1h-21zM1304 623h19v1h-19zM1306 624h15v1h-15zM1307 625h13v1h-13zM1310 626h7v1h-7z" fill="#ff7756"/>
<path d="M1483 600h6v1h-6zM1481 601h10v1h-10zM1479 602h14v1h-14zM1478 603h16v1h-16zM1477 604h18v1h-18zM1476 605h20v1h-20zM1476 606h20v1h-20zM1475 607h22v1h-22zM1475 608h22v1h-22zM1474 609h24v1h-24zM1474 610h24v1h-24zM1474 611h24v1h-24zM1474 612h24v1h-24zM1474 613h24v1h-24zM1474 614h24v1h-24zM1475 615h22v1h-22zM1475 616h22v1h-22zM1476 617h20v1h-20zM1476 618h20v1h-20zM1477 619h18v1h-18zM1478 620h16v1h-16zM1479 621h14v1h-14zM1481 622h10v1h-10zM1483 623h6v1h-6z" fill="#dceef4"/>
<rect x="174" y="14" width="1416" height="1" fill="#333"/>
<rect x="174" y="14" width="1" height="628" fill="#333"/>
<rect x="174" y="640" width="1416" height="2" fill="#333"/>
<rect x="1588" y="14" width="2" height="628" fill="#333"/>
<g fill="#333">
<rect x="166" y="42.00" width="8" height="2"/>
<rect x="166" y="89.00" width="8" height="2"/>
<rect x="166" y="137.00" width="8" height="2"/>
<rect x="166" y="184.00" width="8" height="2"/>
<rect x="166" y="232.00" width="8" height="2"/>
<rect x="166" y="279.00" width="8" height="2"/>
<rect x="166" y="327.00" width="8" height="2"/>
<rect x="166" y="374.00" width="8" height="2"/>
<rect x="166" y="421.00" width="8" height="2"/>
<rect x="166" y="469.00" width="8" height="2"/>
<rect x="166" y="516.00" width="8" height="2"/>
<rect x="166" y="564.00" width="8" height="2"/>
<rect x="166" y="611.00" width="8" height="2"/>
<rect x="276.00" y="642" width="2" height="6"/>
<rect x="449.00" y="642" width="2" height="6"/>
<rect x="622.00" y="642" width="2" height="6"/>
<rect x="794.00" y="642" width="2" height="6"/>
<rect x="967.00" y="642" width="2" height="6"/>
<rect x="1140.00" y="642" width="2" height="6"/>
<rect x="1312.00" y="642" width="2" height="6"/>
<rect x="1485.00" y="642" width="2" height="6"/>
</g>
<g fill="#4d4d4d" font-size="23.00" text-anchor="end">
<text x="160.60" y="52.50" textLength="83.04" lengthAdjust="spacing">Cux1(+)</text>
<text x="160.60" y="99.50" textLength="94.97" lengthAdjust="spacing">Sox11(+)</text>
<text x="160.60" y="147.50" textLength="94.97" lengthAdjust="spacing">Sox12(+)</text>
<text x="160.60" y="194.50" textLength="72.11" lengthAdjust="spacing">Myc(+)</text>
<text x="160.60" y="242.50" textLength="80.09" lengthAdjust="spacing">Myf6(+)</text>
<text x="160.60" y="289.50" textLength="70.56" lengthAdjust="spacing">Atf4(+)</text>
<text x="160.60" y="337.50" textLength="76.79" lengthAdjust="spacing">Tbr1(+)</text>
<text x="160.60" y="384.50" textLength="92.69" lengthAdjust="spacing">Nr1d1(+)</text>
<text x="160.60" y="431.50" textLength="112.06" lengthAdjust="spacing">Bhlhe41(+)</text>
<text x="160.60" y="479.50" textLength="84.44" lengthAdjust="spacing">Hes1(+)</text>
<text x="160.60" y="526.50" textLength="64.89" lengthAdjust="spacing">Erg(+)</text>
<text x="160.60" y="574.50" textLength="77.81" lengthAdjust="spacing">Rxrg(+)</text>
<text x="160.60" y="621.50" textLength="65.13" lengthAdjust="spacing">Jun(+)</text>
</g>
<g fill="#4d4d4d" font-size="23.00" text-anchor="end">
<text transform="translate(285.80 670.85) rotate(-25.00)" textLength="104.63" lengthAdjust="spacing">Im L2/3 IT</text>
<text transform="translate(458.80 670.85) rotate(-25.00)" textLength="104.63" lengthAdjust="spacing">Im L4/5 IT</text>
<text transform="translate(631.80 670.85) rotate(-25.00)" textLength="84.95" lengthAdjust="spacing">Im L5 IT</text>
<text transform="translate(803.80 670.85) rotate(-25.00)" textLength="84.95" lengthAdjust="spacing">Im L6 IT</text>
<text transform="translate(976.80 670.85) rotate(-25.00)" textLength="71.59" lengthAdjust="spacing">L2/3 IT</text>
<text transform="translate(1149.80 670.85) rotate(-25.00)" textLength="71.59" lengthAdjust="spacing">L4/5 IT</text>
<text transform="translate(1321.80 670.85) rotate(-25.00)" textLength="52.41" lengthAdjust="spacing">L5 IT</text>
<text transform="translate(1494.80 670.85) rotate(-25.00)" textLength="52.41" lengthAdjust="spacing">L6 IT</text>
</g>
<g fill="#000">
<text x="1632.5" y="96.8" font-size="28.70" textLength="257.74" lengthAdjust="spacing">Average Expression</text>
<defs><linearGradient id="cg" x1="0" y1="1" x2="0" y2="0">
<stop offset="0.0000" stop-color="#9ac0cd"/>
<stop offset="0.0250" stop-color="#9cc2cf"/>
<stop offset="0.0500" stop-color="#9ec5d2"/>
<stop offset="0.0750" stop-color="#a0c7d4"/>
<stop offset="0.1000" stop-color="#a2cad7"/>
<stop offset="0.1250" stop-color="#a3ccd9"/>
<stop offset="0.1500" stop-color="#a5cedc"/>
<stop offset="0.1750" stop-color="#a7d1de"/>
<stop offset="0.2000" stop-color="#a9d3e1"/>
<stop offset="0.2250" stop-color="#abd6e3"/>
<stop offset="0.2500" stop-color="#add8e6"/>
<stop offset="0.2750" stop-color="#b6dce8"/>
<stop offset="0.3000" stop-color="#bee0eb"/>
<stop offset="0.3250" stop-color="#c6e4ed"/>
<stop offset="0.3500" stop-color="#cee8f0"/>
<stop offset="0.3750" stop-color="#d7ebf2"/>
<stop offset="0.4000" stop-color="#dfeff5"/>
<stop offset="0.4250" stop-color="#e7f3f7"/>
<stop offset="0.4500" stop-color="#eff7fa"/>
<stop offset="0.4750" stop-color="#f7fbfc"/>
<stop offset="0.5000" stop-color="#ffffff"/>
<stop offset="0.5250" stop-color="#ffece5"/>
<stop offset="0.5500" stop-color="#ffd9cb"/>
<stop offset="0.5750" stop-color="#ffc6b2"/>
<stop offset="0.6000" stop-color="#ffb299"/>
<stop offset="0.6250" stop-color="#ff9e81"/>
<stop offset="0.6500" stop-color="#ff8969"/>
<stop offset="0.6750" stop-color="#ff7352"/>
<stop offset="0.7000" stop-color="#ff5b3a"/>
<stop offset="0.7250" stop-color="#ff3e22"/>
<stop offset="0.7500" stop-color="#ff0000"/>
<stop offset="0.7750" stop-color="#f30001"/>
<stop offset="0.8000" stop-color="#e70001"/>
<stop offset="0.8250" stop-color="#db0001"/>
<stop offset="0.8500" stop-color="#cf0002"/>
<stop offset="0.8750" stop-color="#c30002"/>
<stop offset="0.9000" stop-color="#b80002"/>
<stop offset="0.9250" stop-color="#ac0002"/>
<stop offset="0.9500" stop-color="#a10002"/>
<stop offset="0.9750" stop-color="#960001"/>
<stop offset="1.0000" stop-color="#8b0000"/>
</linearGradient></defs>
<rect x="1634" y="115" width="46" height="230" fill="url(#cg)"/>
<rect x="1634" y="114" width="8" height="1" fill="#fff"/>
<rect x="1670" y="114" width="9" height="1" fill="#fff"/>
<text x="1693.5" y="124" font-size="23.00">2.0</text>
<rect x="1634" y="172" width="8" height="1" fill="#fff"/>
<rect x="1670" y="172" width="9" height="1" fill="#fff"/>
<text x="1693.5" y="182" font-size="23.00">1.5</text>
<rect x="1634" y="229" width="8" height="1" fill="#fff"/>
<rect x="1670" y="229" width="9" height="1" fill="#fff"/>
<text x="1693.5" y="239" font-size="23.00">1.0</text>
<rect x="1634" y="287" width="8" height="1" fill="#fff"/>
<rect x="1670" y="287" width="9" height="1" fill="#fff"/>
<text x="1693.5" y="297" font-size="23.00">0.5</text>
<rect x="1634" y="344" width="8" height="1" fill="#fff"/>
<rect x="1670" y="344" width="9" height="1" fill="#fff"/>
<text x="1693.5" y="354" font-size="23.00">0.0</text>
<text x="1633" y="428.8" font-size="28.70" textLength="243.68" lengthAdjust="spacing">Percent Expressed</text>
<path d="M1655 464h3v1h-3zM1653 465h7v1h-7zM1653 466h7v1h-7zM1652 467h9v1h-9zM1652 468h9v1h-9zM1652 469h9v1h-9zM1653 470h7v1h-7zM1653 471h7v1h-7zM1655 472h3v1h-3z"/>
<text x="1693.5" y="478" font-size="23.00">25</text>
<path d="M1653 507h6v1h-6zM1651 508h10v1h-10zM1650 509h12v1h-12zM1649 510h14v1h-14zM1649 511h14v1h-14zM1648 512h16v1h-16zM1648 513h16v1h-16zM1648 514h16v1h-16zM1648 515h16v1h-16zM1648 516h16v1h-16zM1648 517h16v1h-16zM1649 518h14v1h-14zM1649 519h14v1h-14zM1650 520h12v1h-12zM1651 521h10v1h-10zM1653 522h6v1h-6z"/>
<text x="1693.5" y="525" font-size="23.00">50</text>
<path d="M1653 550h7v1h-7zM1651 551h11v1h-11zM1649 552h15v1h-15zM1648 553h17v1h-17zM1647 554h19v1h-19zM1647 555h19v1h-19zM1646 556h21v1h-21zM1646 557h21v1h-21zM1645 558h23v1h-23zM1645 559h23v1h-23zM1645 560h23v1h-23zM1645 561h23v1h-23zM1645 562h23v1h-23zM1645 563h23v1h-23zM1645 564h23v1h-23zM1646 565h21v1h-21zM1646 566h21v1h-21zM1647 567h19v1h-19zM1647 568h19v1h-19zM1648 569h17v1h-17zM1649 570h15v1h-15zM1651 571h11v1h-11zM1653 572h7v1h-7z"/>
<text x="1693.5" y="571" font-size="23.00">75</text>
</g>
</svg></body></html>
